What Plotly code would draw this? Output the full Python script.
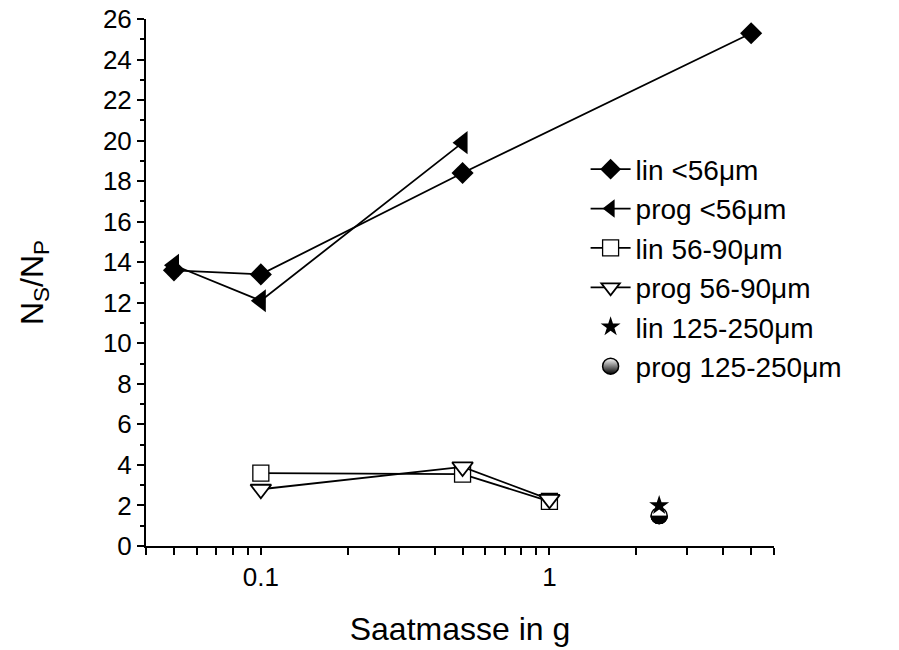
import plotly.graph_objects as go

# ---- data ----
x_lin56 = [0.05, 0.1, 0.5, 5]
y_lin56 = [13.6, 13.4, 18.4, 25.3]
x_prog56 = [0.05, 0.1, 0.5]
y_prog56 = [13.85, 12.1, 19.9]
x_lin5690 = [0.1, 0.5, 1]
y_lin5690 = [3.6, 3.55, 2.2]
x_prog5690 = [0.1, 0.5, 1]
y_prog5690 = [2.8, 3.9, 2.3]
x_lin125 = [2.4]
y_lin125 = [2.0]
x_prog125 = [2.4]
y_prog125 = [1.5]

x_tickvals = [0.04, 0.05, 0.06, 0.07, 0.08, 0.09, 0.1, 0.2, 0.3, 0.4, 0.5,
              0.6, 0.7, 0.8, 0.9, 1, 2, 3, 4, 5, 6]
x_ticktext = ["", "", "", "", "", "", "0.1", "", "", "", "", "", "", "", "",
              "1", "", "", "", "", ""]
y_tickvals = list(range(0, 27, 2))

FONT = "Arial, Liberation Sans, sans-serif"
LW = 1.8

fig = go.Figure()
fig.add_trace(go.Scatter(
    x=x_lin56, y=y_lin56, mode="lines+markers", name="lin <56μm",
    legendrank=1,
    line=dict(color="black", width=LW),
    marker=dict(symbol="diamond", size=17, color="black")))
fig.add_trace(go.Scatter(
    x=x_prog56, y=y_prog56, mode="lines+markers", name="prog <56μm",
    legendrank=2,
    line=dict(color="black", width=LW),
    marker=dict(symbol="triangle-left", size=20, color="black")))
fig.add_trace(go.Scatter(
    x=x_lin5690, y=y_lin5690, mode="lines+markers", name="lin 56-90μm",
    legendrank=3,
    line=dict(color="black", width=LW),
    marker=dict(symbol="square", size=16, color="white",
                line=dict(color="black", width=1.3))))
fig.add_trace(go.Scatter(
    x=x_prog5690, y=y_prog5690, mode="lines+markers", name="prog 56-90μm",
    legendrank=4,
    line=dict(color="black", width=LW),
    marker=dict(symbol="triangle-down", size=18, color="white",
                line=dict(color="black", width=1.8))))
# half-filled circle: legend entry + layered marker pieces
fig.add_trace(go.Scatter(
    x=x_prog125, y=y_prog125, mode="markers", name="prog 125-250μm",
    legendrank=6,
    marker=dict(symbol="circle", size=16, color="white",
                gradient=dict(type="vertical", color="black"),
                line=dict(color="black", width=1.5))))
fig.add_trace(go.Scatter(
    x=x_prog125, y=y_prog125, mode="markers", showlegend=False, hoverinfo="skip",
    marker=dict(symbol="circle", size=16, color="black",
                line=dict(color="black", width=1.5))))
fig.add_trace(go.Scatter(
    x=x_prog125, y=y_prog125, mode="markers", showlegend=False, hoverinfo="skip",
    marker=dict(symbol="square", size=18, color="white", standoff=9, angle=180,
                line=dict(width=0))))
fig.add_trace(go.Scatter(
    x=x_prog125, y=y_prog125, mode="markers", showlegend=False, hoverinfo="skip",
    marker=dict(symbol="circle-open", size=16, color="black",
                line=dict(color="black", width=1.5))))
fig.add_trace(go.Scatter(
    x=x_lin125, y=y_lin125, mode="markers", name="lin 125-250μm",
    legendrank=5,
    marker=dict(symbol="star", size=15, color="black")))

fig.update_layout(
    width=899, height=650,
    margin=dict(l=146, r=125, t=19, b=104),
    paper_bgcolor="white", plot_bgcolor="white",
    font=dict(family=FONT, size=26, color="black"),
    legend=dict(x=0.7, y=0.762, xanchor="left", yanchor="top",
                font=dict(family=FONT, size=28, color="black"),
                bgcolor="rgba(0,0,0,0)", tracegroupgap=0, itemwidth=40),
)
fig.update_xaxes(
    type="log", range=[-1.39794, 0.778151], automargin=False,
    showline=True, linecolor="black", linewidth=2,
    showgrid=False, zeroline=False, mirror=False,
    ticks="outside", ticklen=7, tickwidth=1.8, tickcolor="black",
    tickmode="array", tickvals=x_tickvals, ticktext=x_ticktext,
    tickfont=dict(family=FONT, size=26),
    title=dict(text="Saatmasse in g", font=dict(family=FONT, size=32), standoff=26),
)
fig.update_yaxes(
    range=[0, 26], automargin=False,
    showline=True, linecolor="black", linewidth=2,
    showgrid=False, zeroline=False, mirror=False,
    ticks="outside", ticklen=7, tickwidth=1.8, tickcolor="black",
    tickmode="array", tickvals=y_tickvals,
    minor=dict(ticks="outside", ticklen=4, tickwidth=1.5, tickcolor="black",
               dtick=1, showgrid=False),
    tickfont=dict(family=FONT, size=26),
    title=dict(text="N<sub>S</sub>/N<sub>P</sub>", font=dict(family=FONT, size=32), standoff=50),
)

fig.write_html("out.html")
